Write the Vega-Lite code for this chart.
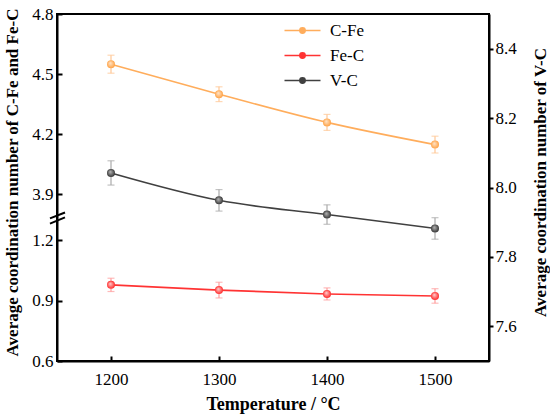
{
  "$schema": "https://vega.github.io/schema/vega-lite/v6.json",
  "description": "Average coordination numbers against temperature, left axis broken",
  "width": 432,
  "height": 347,
  "autosize": "none",
  "padding": {"left": 57, "top": 14, "right": 61, "bottom": 56},
  "background": "white",
  "config": {
    "view": {"stroke": "black", "strokeWidth": 2},
    "axis": {
      "labelFont": "Liberation Serif",
      "labelFontSize": 17,
      "labelColor": "black",
      "titleFont": "Liberation Serif",
      "titleFontSize": 17,
      "titleFontWeight": "bold",
      "titleColor": "black",
      "domainColor": "black",
      "domainWidth": 2,
      "tickColor": "black",
      "tickWidth": 2,
      "grid": false
    },
    "axisX": {"titleFontSize": 18}
  },
  "datasets": {
    "pts": [
      {"T": 1200, "series": "C-Fe", "value": 4.549, "err": 0.045},
      {"T": 1300, "series": "C-Fe", "value": 4.399, "err": 0.037},
      {"T": 1400, "series": "C-Fe", "value": 4.258, "err": 0.04},
      {"T": 1500, "series": "C-Fe", "value": 4.147, "err": 0.042},
      {"T": 1200, "series": "Fe-C", "value": 0.978, "err": 0.033},
      {"T": 1300, "series": "Fe-C", "value": 0.952, "err": 0.039},
      {"T": 1400, "series": "Fe-C", "value": 0.933, "err": 0.03},
      {"T": 1500, "series": "Fe-C", "value": 0.923, "err": 0.036},
      {"T": 1200, "series": "V-C", "value": 8.042, "err": 0.035},
      {"T": 1300, "series": "V-C", "value": 7.963, "err": 0.031},
      {"T": 1400, "series": "V-C", "value": 7.922, "err": 0.028},
      {"T": 1500, "series": "V-C", "value": 7.882, "err": 0.031}
    ],
    "brk": [
      {"bx": 1143.5, "bx2": 1157.4, "by": 7.896, "by2": 7.914},
      {"bx": 1143.5, "bx2": 1157.4, "by": 7.911, "by2": 7.928}
    ]
  },
  "layer": [
    {
      "data": {"name": "pts"},
      "transform": [{"filter": {"field": "series", "oneOf": ["C-Fe", "Fe-C"]}}],
      "encoding": {
        "x": {
          "field": "T",
          "type": "quantitative",
          "title": "Temperature / °C",
          "scale": {"domain": [1150, 1550], "nice": false, "zero": false},
          "axis": {"values": [1200, 1300, 1400, 1500], "format": "d", "tickSize": -5, "labelPadding": 15, "titlePadding": 8}
        },
        "y": {
          "field": "value",
          "type": "quantitative",
          "title": "Average coordination number of C-Fe and Fe-C",
          "scale": {"domain": [0.6, 1.31, 3.78, 4.8], "range": [347, 204, 204, 0], "nice": false, "zero": false},
          "axis": {"values": [0.6, 0.9, 1.2, 3.9, 4.2, 4.5, 4.8], "format": ".1f", "tickSize": -5, "labelPadding": 9, "titleX": -45, "titleY": 168, "titleBaseline": "middle", "titleAlign": "center", "titleAngle": 270}
        }
      },
      "layer": [
        {
          "transform": [{"filter": {"field": "series", "equal": "C-Fe"}}],
          "mark": {"type": "errorbar", "color": "#FFC795", "ticks": {"size": 7}, "thickness": 1.2},
          "encoding": {"yError": {"field": "err"}}
        },
        {
          "transform": [{"filter": {"field": "series", "equal": "Fe-C"}}],
          "mark": {"type": "errorbar", "color": "#FF9C9C", "ticks": {"size": 7}, "thickness": 1.2},
          "encoding": {"yError": {"field": "err"}}
        },
        {
          "mark": {"type": "line", "interpolate": "monotone", "strokeWidth": 1.6},
          "encoding": {
            "color": {
              "field": "series",
              "type": "nominal",
              "scale": {"domain": ["C-Fe", "Fe-C", "V-C"], "range": ["#FFAD5C", "#FF3333", "#404040"]},
              "legend": {
                "title": null,
                "orient": "none",
                "legendX": 237,
                "legendY": 8,
                "padding": 0,
                "symbolType": "M-3,0L3,0M0.45,0A0.45,0.45,0,1,1,-0.45,0A0.45,0.45,0,1,1,0.45,0Z",
                "symbolSize": 144,
                "symbolStrokeWidth": 1.5,
                "labelFont": "Liberation Serif",
                "labelFontSize": 17,
                "labelColor": "black",
                "labelOffset": 19,
                "rowPadding": 7,
                "encode": {
                  "symbols": {
                    "update": {
                      "fill": {"scale": "color", "field": "value"},
                      "stroke": {"scale": "color", "field": "value"}
                    }
                  }
                }
              }
            }
          }
        },
        {
          "transform": [{"filter": {"field": "series", "equal": "C-Fe"}}],
          "mark": {
            "type": "point",
            "filled": true,
            "size": 64,
            "opacity": 1,
            "fill": {"gradient": "radial", "x1": 0.4, "y1": 0.35, "r1": 0, "x2": 0.5, "y2": 0.5, "r2": 0.55,
              "stops": [{"offset": 0, "color": "#FFE6CC"}, {"offset": 1, "color": "#FF9E3D"}]}
          }
        },
        {
          "transform": [{"filter": {"field": "series", "equal": "Fe-C"}}],
          "mark": {
            "type": "point",
            "filled": true,
            "size": 64,
            "opacity": 1,
            "fill": {"gradient": "radial", "x1": 0.4, "y1": 0.35, "r1": 0, "x2": 0.5, "y2": 0.5, "r2": 0.55,
              "stops": [{"offset": 0, "color": "#FFD0D0"}, {"offset": 1, "color": "#FF1F1F"}]}
          }
        }
      ]
    },
    {
      "data": {"name": "pts"},
      "transform": [{"filter": {"field": "series", "equal": "V-C"}}],
      "encoding": {
        "x": {
          "field": "T",
          "type": "quantitative",
          "title": "Temperature / °C",
          "scale": {"domain": [1150, 1550], "nice": false, "zero": false},
          "axis": {"values": [1200, 1300, 1400, 1500], "format": "d", "tickSize": -5, "labelPadding": 15, "titlePadding": 8}
        },
        "y": {
          "field": "value",
          "type": "quantitative",
          "title": "Average coordination number of V-C",
          "scale": {"domain": [7.5, 8.5], "nice": false, "zero": false},
          "axis": {"orient": "right", "values": [7.6, 7.8, 8.0, 8.2, 8.4], "format": ".1f", "tickSize": 4, "labelPadding": 2, "titleX": 51, "titleY": 168, "titleBaseline": "middle", "titleAlign": "center", "titleAngle": 270}
        }
      },
      "layer": [
        {
          "mark": {"type": "errorbar", "color": "#AAAAAA", "ticks": {"size": 7}, "thickness": 1.2},
          "encoding": {"yError": {"field": "err"}}
        },
        {
          "mark": {"type": "line", "interpolate": "monotone", "strokeWidth": 1.6},
          "encoding": {
            "color": {
              "field": "series",
              "type": "nominal",
              "scale": {"domain": ["C-Fe", "Fe-C", "V-C"], "range": ["#FFAD5C", "#FF3333", "#404040"]}
            }
          }
        },
        {
          "mark": {
            "type": "point",
            "filled": true,
            "size": 64,
            "opacity": 1,
            "fill": {"gradient": "radial", "x1": 0.4, "y1": 0.35, "r1": 0, "x2": 0.5, "y2": 0.5, "r2": 0.55,
              "stops": [{"offset": 0, "color": "#B8B8B8"}, {"offset": 1, "color": "#2E2E2E"}]}
          }
        }
      ]
    },
    {
      "data": {"name": "brk"},
      "mark": {"type": "rule", "color": "black", "strokeWidth": 2},
      "encoding": {
        "x": {
          "field": "bx",
          "type": "quantitative",
          "title": "Temperature / °C",
          "scale": {"domain": [1150, 1550], "nice": false, "zero": false},
          "axis": {"values": [1200, 1300, 1400, 1500], "format": "d", "tickSize": -5, "labelPadding": 15, "titlePadding": 8}
        },
        "x2": {"field": "bx2"},
        "y": {"field": "by", "type": "quantitative", "scale": {"domain": [7.5, 8.5], "nice": false, "zero": false}, "axis": null},
        "y2": {"field": "by2"}
      }
    }
  ],
  "resolve": {"scale": {"y": "independent"}}
}
